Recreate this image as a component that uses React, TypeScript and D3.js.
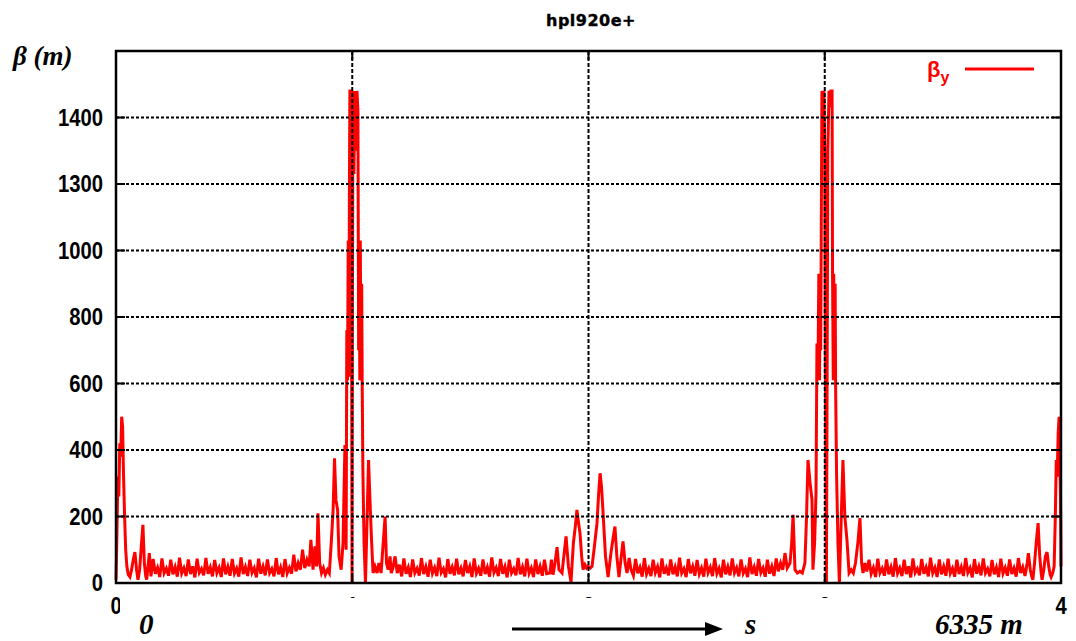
import React from "react";
import * as d3 from "d3";

// ---------- data ----------
const X_TICKS = [0, 1, 2, 3, 4];
const X_TICK_LABELS = ["0", "1", "2", "3", "4"];
const Y_TICKS = [0, 200, 400, 600, 800, 1000, 1200, 1400];
const Y_TICK_LABELS = ["0", "200", "400", "600", "800", "1000", "1300", "1400"];
const GRID_X = [1, 2, 3];

const TITLE = "hpl920e+";

// arc sampling (s units)
const ARC_STEP = 0.0093;

const START_PTS: [number, number][] = [
  [0.0, 10], [0.004, 150], [0.008, 320], [0.012, 260], [0.016, 420], [0.02, 380],
  [0.024, 500], [0.028, 470], [0.032, 320], [0.036, 210], [0.041, 100], [0.046, 50],
  [0.052, 25], [0.059, 18], [0.066, 40], [0.073, 70], [0.08, 93], [0.087, 40],
  [0.093, 10], [0.1, 40], [0.107, 110], [0.114, 175], [0.12, 60], [0.126, 20],
  [0.13, 10], [0.137, 60], [0.141, 90],
];

const ARC1_S0 = 0.148;
const ARC1_BETA = [20,72,28,46,18,74,30,44,22,70,26,48,19,76,29,45,21,71,27,50,17,73,31,43,23,75,28,47,20,69,30,46,18,74,26,49,22,72,29,44,19,77,27,48,21,70,31,45,17,73,28,50,23,71,30,43,20,75,26,47,18,72,29,46,28,85,35,60,40,100,45,70,50];

const IR1_PTS: [number, number][] = [
  [0.825, 130], [0.834, 40], [0.842, 110], [0.849, 50], [0.855, 210], [0.862, 60],
  [0.87, 30], [0.878, 45], [0.886, 25], [0.895, 40], [0.903, 30], [0.911, 120],
  [0.919, 220], [0.925, 375], [0.931, 250], [0.938, 220], [0.944, 80], [0.953, 40],
  [0.961, 120], [0.969, 415], [0.974, 100], [0.977, 760], [0.98, 610], [0.983, 1030],
  [0.986, 620], [0.988, 1200], [0.99, 1480], [0.995, 1480], [0.997, 900], [0.999, 0],
  [1.001, 900], [1.003, 1480], [1.007, 1230], [1.012, 1480], [1.016, 1300], [1.02, 1480],
  [1.024, 1420], [1.027, 700], [1.029, 1030], [1.032, 610], [1.034, 1030], [1.037, 620],
  [1.04, 900], [1.042, 610], [1.045, 340], [1.05, 120], [1.056, 0], [1.063, 200],
  [1.069, 370], [1.075, 250], [1.081, 140], [1.088, 30], [1.096, 50], [1.105, 30],
  [1.113, 60], [1.122, 30], [1.131, 120], [1.139, 200], [1.145, 60], [1.152, 40],
  [1.16, 80], [1.165, 30],
];

const ARC2_S0 = 1.172;
const ARC2_BETA = [45,80,30,55,20,74,28,47,18,71,30,44,22,75,27,49,19,70,29,46,21,76,31,43,17,72,28,48,23,73,26,45,20,69,30,50,18,74,29,44,22,71,27,47,19,77,31,46,21,72,28,49,17,70,30,43,23,75,26,48,20,73,29,45,18,71,27,50,22,70,28];

const IR2_PTS: [number, number][] = [
  [1.837, 30], [1.843, 70], [1.85, 25], [1.858, 60], [1.867, 108], [1.875, 40],
  [1.888, 30], [1.897, 90], [1.905, 140], [1.915, 50], [1.926, 3], [1.936, 120],
  [1.945, 175], [1.951, 220], [1.958, 180], [1.964, 150], [1.971, 80], [1.977, 40],
  [1.985, 55], [1.992, 45], [1.998, 50], [2.008, 45], [2.015, 50], [2.025, 110],
  [2.036, 180], [2.043, 270], [2.049, 330], [2.055, 290], [2.061, 220], [2.072, 80],
  [2.083, 18], [2.095, 90], [2.105, 140], [2.112, 170], [2.12, 80], [2.129, 18],
  [2.137, 70], [2.146, 125], [2.155, 60], [2.163, 30], [2.172, 75], [2.18, 40],
];

const ARC3_S0 = 2.19;
const ARC3_BETA = [22,72,29,47,19,75,27,44,21,70,31,49,17,74,28,46,23,71,26,48,20,76,30,43,18,72,29,50,22,69,27,45,19,73,31,47,21,75,28,44,17,70,26,49,23,74,30,46,20,71,29,43,18,77,27,48,22,72,31,45,19,70,28,50,21,74,35,60,40,90,45];

const IR3_PTS: [number, number][] = [
  [2.853, 60], [2.86, 120], [2.866, 205], [2.874, 40], [2.884, 30], [2.895, 35],
  [2.905, 30], [2.916, 60], [2.923, 200], [2.929, 370], [2.938, 300], [2.946, 250],
  [2.95, 40], [2.957, 120], [2.963, 270], [2.967, 720], [2.971, 610], [2.975, 930],
  [2.978, 610], [2.981, 930], [2.983, 700], [2.988, 1480], [2.992, 1430], [2.996, 1480],
  [3.0, 1300], [3.003, 600], [3.007, 0], [3.01, 600], [3.013, 1300], [3.018, 1480],
  [3.022, 1430], [3.026, 1480], [3.031, 1480], [3.033, 930], [3.036, 610], [3.038, 930],
  [3.041, 620], [3.044, 900], [3.046, 590], [3.05, 330], [3.056, 120], [3.062, 0],
  [3.07, 200], [3.077, 370], [3.085, 200], [3.094, 130], [3.103, 30], [3.112, 40],
  [3.121, 30], [3.13, 60], [3.14, 120], [3.149, 195], [3.156, 60], [3.162, 30],
  [3.17, 60],
];

const ARC4_S0 = 3.178;
const ARC4_BETA = [35,70,28,46,18,73,30,44,22,71,26,48,19,75,29,45,21,70,27,50,17,74,31,43,23,72,28,47,20,76,30,46,18,71,26,49,22,73,29,44,19,70,27,48,21,75,31,45,17,72,28,50,23,74,30,43,20,69,26,47,18,73,29,46,22,71,27,45,19,75,30,48,21,60];

const END_PTS: [number, number][] = [
  [3.862, 90], [3.87, 40], [3.876, 20], [3.881, 10], [3.888, 60], [3.895, 120],
  [3.903, 180], [3.91, 80], [3.916, 30], [3.92, 10], [3.927, 40], [3.934, 80],
  [3.941, 93], [3.948, 50], [3.954, 25], [3.958, 18], [3.965, 30], [3.971, 50],
  [3.976, 200], [3.98, 370], [3.984, 320], [3.988, 450], [3.992, 500], [3.995, 380],
  [3.998, 250], [4.0, 50],
];

function arc(s0: number, vals: number[]): [number, number][] {
  return vals.map((b, i) => [s0 + i * ARC_STEP, b] as [number, number]);
}

function buildSeries(): [number, number][] {
  return [
    ...START_PTS,
    ...arc(ARC1_S0, ARC1_BETA),
    ...IR1_PTS,
    ...arc(ARC2_S0, ARC2_BETA),
    ...IR2_PTS,
    ...arc(ARC3_S0, ARC3_BETA),
    ...IR3_PTS,
    ...arc(ARC4_S0, ARC4_BETA),
    ...END_PTS,
  ];
}

// ---------- chart ----------
const W = 1076;
const H = 641;
const PLOT = { left: 116, right: 1061, top: 51, bottom: 583 };

export default function App() {
  const x = d3.scaleLinear().domain([0, 4]).range([PLOT.left, PLOT.right]);
  const y = d3.scaleLinear().domain([0, 1600]).range([PLOT.bottom, PLOT.top]);
  const data = buildSeries();
  const line = d3
    .line<[number, number]>()
    .x((d) => x(d[0]))
    .y((d) => y(d[1]));

  const tickFont = "'Liberation Sans', Arial, sans-serif";
  const serif = "'Liberation Serif', 'Times New Roman', serif";

  return (
    <svg
      width={W}
      height={H}
      style={{ position: "absolute", left: 0, top: 0, display: "block" }}
    >
      <rect x={0} y={0} width={W} height={H} fill="#ffffff" />

      {/* title */}
      <text
        x={591}
        y={26}
        textAnchor="middle"
        fontFamily="'DejaVu Sans', Verdana, sans-serif"
        fontWeight="bold"
        fontSize={16}
        letterSpacing={0.5}
        stroke="#000"
        strokeWidth={0.4}
      >
        {TITLE}
      </text>

      {/* data line */}
      <path
        d={line(data) || ""}
        fill="none"
        stroke="#ff0000"
        strokeWidth={3}
        strokeLinejoin="miter"
      />

      {/* horizontal grid */}
      {Y_TICKS.filter((t) => t > 0).map((t) => (
        <line
          key={"hg" + t}
          x1={PLOT.left}
          x2={PLOT.right}
          y1={y(t)}
          y2={y(t)}
          stroke="#000"
          strokeWidth={2}
          strokeDasharray="3,2"
        />
      ))}
      {/* vertical grid */}
      {GRID_X.map((t) => (
        <line
          key={"vg" + t}
          x1={x(t)}
          x2={x(t)}
          y1={PLOT.top}
          y2={PLOT.bottom}
          stroke="#000"
          strokeWidth={2}
          strokeDasharray="4,2"
        />
      ))}

      {/* ticks */}
      {Y_TICKS.map((t) => (
        <g key={"yt" + t}>
          <line x1={PLOT.left} x2={PLOT.left + 9} y1={y(t)} y2={y(t)} stroke="#000" strokeWidth={2} />
          <line x1={PLOT.right - 9} x2={PLOT.right} y1={y(t)} y2={y(t)} stroke="#000" strokeWidth={2} />
        </g>
      ))}
      {X_TICKS.map((t) => (
        <g key={"xt" + t}>
          <line x1={x(t)} x2={x(t)} y1={PLOT.bottom} y2={PLOT.bottom - 9} stroke="#000" strokeWidth={2} />
          <line x1={x(t)} x2={x(t)} y1={PLOT.top} y2={PLOT.top + 9} stroke="#000" strokeWidth={2} />
        </g>
      ))}

      {/* frame */}
      <rect
        x={PLOT.left}
        y={PLOT.top}
        width={PLOT.right - PLOT.left}
        height={PLOT.bottom - PLOT.top}
        fill="none"
        stroke="#000"
        strokeWidth={2.5}
      />

      {/* y tick labels */}
      {Y_TICKS.map((t, i) => (
        <text
          key={"yl" + t}
          transform={`translate(103, ${y(t) + 8}) scale(0.88, 1)`}
          textAnchor="end"
          fontFamily={tickFont}
          fontWeight="bold"
          fontSize={23}
        >
          {Y_TICK_LABELS[i]}
        </text>
      ))}

      {/* x tick labels (mostly hidden under the caption strip) */}
      {X_TICKS.map((t, i) => (
        <text
          key={"xl" + t}
          transform={`translate(${x(t)}, 614) scale(0.88, 1)`}
          textAnchor="middle"
          fontFamily={tickFont}
          fontWeight="bold"
          fontSize={23}
        >
          {X_TICK_LABELS[i]}
        </text>
      ))}
      <rect x={120} y={598} width={935} height={H - 598} fill="#ffffff" />

      {/* legend */}
      <text x={927} y={77} fill="#ff0000" fontFamily={tickFont} fontWeight="bold" fontSize={22}>
        β
        <tspan fontSize={16} dy={6}>y</tspan>
      </text>
      <line x1={965} x2={1034} y1={69} y2={69} stroke="#ff0000" strokeWidth={3} />

      {/* axis captions */}
      <text x={13} y={65} fontFamily={serif} fontStyle="italic" fontWeight="bold" fontSize={27}>
        β (m)
      </text>
      <text x={139} y={634} fontFamily={serif} fontStyle="italic" fontWeight="bold" fontSize={29}>
        0
      </text>
      <line x1={512} x2={708} y1={629} y2={629} stroke="#000" strokeWidth={3} />
      <polygon points="705,622 723,629 705,636" fill="#000" />
      <text x={745} y={634} fontFamily={serif} fontStyle="italic" fontWeight="bold" fontSize={29}>
        s
      </text>
      <text x={935} y={634} fontFamily={serif} fontStyle="italic" fontWeight="bold" fontSize={29}>
        6335 m
      </text>
    </svg>
  );
}
